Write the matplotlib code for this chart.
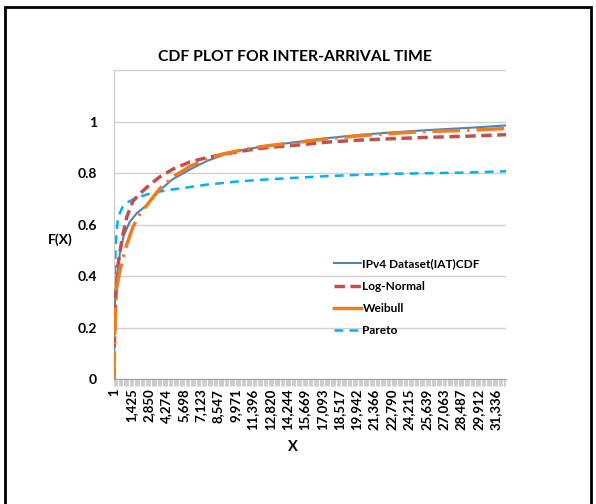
import matplotlib
matplotlib.use('Agg')
import matplotlib.pyplot as plt
from matplotlib.patches import Rectangle

plt.rcParams['font.family'] = ['Lato', 'DejaVu Sans']
plt.rcParams['font.weight'] = 'bold'

# x axis tick labels (category numbers)
x_tick_labels = ['1', '1,425', '2,850', '4,274', '5,698', '7,123', '8,547', '9,971',
                 '11,396', '12,820', '14,244', '15,669', '17,093', '18,517', '19,942',
                 '21,366', '22,790', '24,215', '25,639', '27,063', '28,487', '29,912', '31,336']
y_tick_labels = ['0', '0.2', '0.4', '0.6', '0.8', '1', '']
y_ticks = [0, 0.2, 0.4, 0.6, 0.8, 1.0, 1.2]

# empirical CDF of the dataset
ipv4_x = [1, 40, 120, 250, 500, 800, 1300, 1900, 2700, 3700, 4800, 6300, 7700, 9100,
          10500, 12700, 14600, 17400, 20100, 22600, 26200, 29700, 32200]
ipv4_f = [0, 0.2, 0.33, 0.40, 0.49, 0.555, 0.61, 0.645, 0.675, 0.73, 0.775, 0.815, 0.848,
          0.872, 0.889, 0.907, 0.918, 0.935, 0.948, 0.957, 0.968, 0.977, 0.985]

lognorm_x = [1, 41, 82, 329, 657, 1068, 1561, 2136, 2957, 3778, 4846, 6243, 7639, 8953,
             10350, 11746, 12814, 14703, 17496, 20206, 22671, 25381, 28995, 32199]
lognorm_f = [0, 0.12, 0.26, 0.44, 0.54, 0.63, 0.69, 0.72, 0.755, 0.785, 0.815, 0.843, 0.86,
             0.872, 0.884, 0.894, 0.9, 0.907, 0.92, 0.928, 0.933, 0.938, 0.943, 0.949]

weibull_x = [1, 41, 82, 222, 493, 903, 1561, 2136, 2957, 3778, 4846, 6243, 7639, 8953,
             10350, 11746, 12814, 14703, 17496, 20206, 22671, 25381, 28995, 32199]
weibull_f = [0, 0.08, 0.18, 0.35, 0.42, 0.5, 0.59, 0.64, 0.69, 0.74, 0.785, 0.826, 0.853,
             0.874, 0.888, 0.9, 0.907, 0.917, 0.933, 0.945, 0.953, 0.961, 0.966, 0.973]

pareto_x = [1, 25, 82, 140, 222, 329, 493, 739, 1068, 1889, 2957, 4189, 5420, 7639, 10350,
            12814, 14703, 17496, 20206, 22671, 25381, 28995, 32199]
pareto_f = [0, 0.2, 0.4, 0.5, 0.57, 0.62, 0.645, 0.67, 0.685, 0.705, 0.72, 0.732, 0.74,
            0.755, 0.768, 0.776, 0.781, 0.788, 0.793, 0.797, 0.799, 0.802, 0.807]

fig = plt.figure(figsize=(5.96, 5.04), dpi=100)
ax = fig.add_axes([0.191, 0.248, 0.658, 0.613])

ax.plot(ipv4_x, ipv4_f, color='#4F81BD', lw=1.5, label='IPv4 Dataset(IAT)CDF', zorder=3)
ax.plot(lognorm_x, lognorm_f, color='#C0504D', lw=2.5, dashes=(3, 1.6), label='Log-Normal', zorder=4)
ax.plot(weibull_x, weibull_f, color='#F07C1E', lw=2.5, dashes=(8, 2, 0.7, 2), zorder=5)
ax.plot([], [], color='#F07C1E', lw=2.5, label='Weibull')
ax.plot(pareto_x, pareto_f, color='#00B0F0', lw=1.8, dashes=(3.5, 2.5), label='Pareto', zorder=2)

ax.set_xlim(0, 32200)
ax.set_ylim(0, 1.2)
ax.set_yticks(y_ticks)
ax.set_yticklabels(y_tick_labels, fontsize=10, fontweight='bold')
ax.yaxis.grid(True, color='#D0D0D0', lw=1)
ax.set_axisbelow(True)
ax.tick_params(axis='y', length=0, pad=12)

x_pos = [int(s.replace(',', '')) for s in x_tick_labels]
ax.set_xticks(x_pos)
ax.set_xticklabels(x_tick_labels, rotation=90, fontsize=9.5, fontweight='bold')
ax.set_xticks(list(range(0, 32200, 100)), minor=True)
ax.tick_params(axis='x', which='major', length=0, pad=7)
ax.tick_params(axis='x', which='minor', length=5, width=0.4, color='#A8A8A8')

for s in ['top', 'right']:
    ax.spines[s].set_visible(False)
ax.spines['left'].set_color('#C8C8C8')
ax.spines['bottom'].set_color('#A0A0A0')

ax.legend(loc='upper left', bbox_to_anchor=(0.535, 0.425), frameon=False,
          handlelength=2.2, handletextpad=0.15, labelspacing=0.95,
          prop={'weight': 'bold', 'size': 8.6})

fig.text(0.495, 0.887, 'CDF PLOT FOR INTER-ARRIVAL TIME', ha='center', va='center',
         fontsize=11.3, fontweight='bold')
fig.text(0.101, 0.524, 'F(X)', ha='center', va='center', fontsize=10, fontweight='bold')
fig.text(0.492, 0.113, 'X', ha='center', va='center', fontsize=10.5, fontweight='bold')

fig.patches.append(Rectangle((5 / 596, -0.05), 586 / 596, 1 - 7 / 504 + 0.05,
                             transform=fig.transFigure, fill=False, lw=2,
                             edgecolor='black', clip_on=False))

fig.savefig('out.png', dpi=100)
